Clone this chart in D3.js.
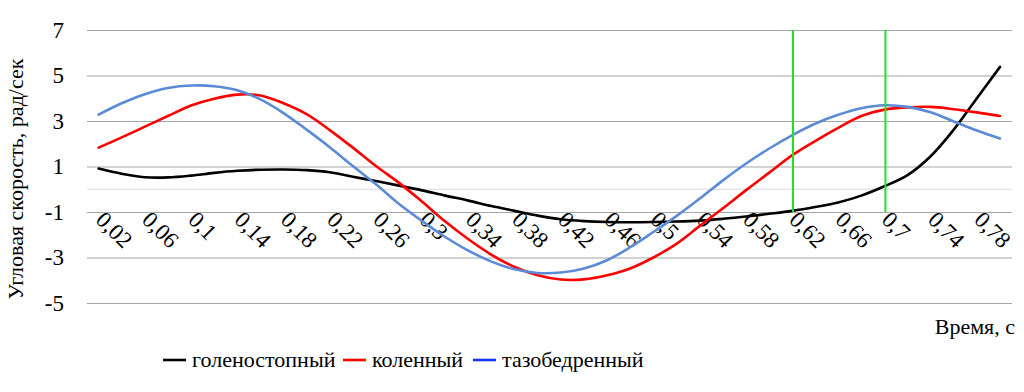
<!DOCTYPE html>
<meta charset="utf-8">
<style>
    body { margin: 0; background: #fff; }
    .grid line { stroke: #a6a6a6; stroke-width: 1px; }
    .series { fill: none; stroke-width: 2.6px; stroke-linejoin: round; stroke-linecap: round; }
</style>
<svg width="1024" height="392" font-family="'Times New Roman', 'Liberation Serif', Times, 'DejaVu Serif', serif"></svg>
<script src="https://d3js.org/d3.v7.min.js"></script>
<script>

    // time points, s
    var times = [0.02, 0.04, 0.06, 0.08, 0.10, 0.12, 0.14, 0.16, 0.18, 0.20,
                 0.22, 0.24, 0.26, 0.28, 0.30, 0.32, 0.34, 0.36, 0.38, 0.40,
                 0.42, 0.44, 0.46, 0.48, 0.50, 0.52, 0.54, 0.56, 0.58, 0.60,
                 0.62, 0.64, 0.66, 0.68, 0.70, 0.72, 0.74, 0.76, 0.78, 0.80];

    // angular velocity, rad/s
    var ankle = [0.91, 0.68, 0.53, 0.52, 0.60, 0.72, 0.81, 0.86, 0.87, 0.84,
                 0.75, 0.55, 0.36, 0.16, -0.05, -0.28, -0.50, -0.74, -0.95, -1.16,
                 -1.32, -1.40, -1.44, -1.45, -1.44, -1.42, -1.38, -1.30, -1.20, -1.08,
                 -0.95, -0.78, -0.58, -0.28, 0.13, 0.62, 1.45, 2.62, 4.00, 5.38];

    var knee = [1.83, 2.28, 2.75, 3.22, 3.68, 3.98, 4.16, 4.12, 3.78, 3.30,
                2.60, 1.83, 1.02, 0.28, -0.55, -1.42, -2.20, -2.88, -3.42, -3.78,
                -3.97, -3.96, -3.78, -3.48, -3.00, -2.40, -1.62, -0.85, -0.05, 0.72,
                1.49, 2.12, 2.70, 3.22, 3.50, 3.60, 3.62, 3.52, 3.38, 3.22];

    var hip = [3.28, 3.78, 4.18, 4.45, 4.56, 4.53, 4.35, 3.95, 3.35, 2.62,
               1.85, 1.02, 0.22, -0.65, -1.40, -2.10, -2.70, -3.18, -3.52, -3.68,
               -3.66, -3.48, -3.12, -2.55, -1.88, -1.18, -0.42, 0.38, 1.12, 1.78,
               2.37, 2.88, 3.27, 3.56, 3.69, 3.62, 3.38, 2.98, 2.58, 2.23];

    var seriesNames = ["голеностопный", "коленный", "тазобедренный"];
    var xLabelTimes = [0.02, 0.06, 0.10, 0.14, 0.18, 0.22, 0.26, 0.30, 0.34, 0.38,
                       0.42, 0.46, 0.50, 0.54, 0.58, 0.62, 0.66, 0.70, 0.74, 0.78];
    var yTicks = [7, 5, 3, 1, -1, -3, -5];
    var markerTimes = [0.62, 0.70];

    var serif = "'Times New Roman', 'Liberation Serif', Times, 'DejaVu Serif', serif";

    var svg = d3.select("svg"),
        left = 87,
        right = 1012;

    var x = d3.scalePoint().domain(times).range([98.6, 1000]);
    var y = d3.scaleLinear().domain([-5, 7]).range([303, 30]);

    var fmt = function (t) { return String(+t.toFixed(2)).replace(".", ","); };

    // horizontal gridlines + y tick labels
    var yAxis = svg.append("g")
        .attr("class", "grid")
        .attr("transform", "translate(" + left + ",0)")
        .call(d3.axisLeft(y).tickValues(yTicks).tickSize(-(right - left)).tickPadding(23).tickFormat(d3.format("d")));
    yAxis.attr("font-family", serif).attr("font-size", 23);
    yAxis.select(".domain").remove();
    yAxis.selectAll("text")
        .text(function (d) { return d < 0 ? "-" + Math.abs(d) : d; });

    // zero line (category axis)
    svg.append("line")
        .attr("x1", left).attr("x2", right)
        .attr("y1", y(0)).attr("y2", y(0))
        .attr("stroke", "#d9d9d9").attr("stroke-width", 1.2);

    // category labels, rotated
    svg.append("g").selectAll("text")
        .data(xLabelTimes)
        .enter().append("text")
        .attr("font-family", serif)
        .attr("font-size", 23)
        .attr("transform", function (d) { return "translate(" + (x(d) - 4) + ",221) rotate(45)"; })
        .text(fmt);

    // series
    var line = d3.line()
        .x(function (d, i) { return x(times[i]); })
        .y(function (d) { return y(d); })
        .curve(d3.curveCatmullRom.alpha(0.5));

    var series = [
        { name: seriesNames[0], values: ankle, color: "#000000", legend: "#000000" },
        { name: seriesNames[1], values: knee, color: "#ff0000", legend: "#ff0000" },
        { name: seriesNames[2], values: hip, color: "#5b8bd6", legend: "#1434ff" }
    ];

    svg.append("g").selectAll("path")
        .data(series)
        .enter().append("path")
        .attr("class", "series")
        .attr("stroke", function (d) { return d.color; })
        .attr("d", function (d) { return line(d.values); });

    // green markers
    svg.append("g").selectAll("line")
        .data(markerTimes)
        .enter().append("line")
        .attr("x1", function (d) { return x(d) + 1; })
        .attr("x2", function (d) { return x(d) + 1; })
        .attr("y1", y(7))
        .attr("y2", y(-1))
        .attr("stroke", "#22e022")
        .attr("stroke-width", 2);

    // axis titles
    svg.append("text")
        .attr("font-family", serif)
        .attr("font-size", 22)
        .attr("text-anchor", "middle")
        .attr("dominant-baseline", "central")
        .attr("transform", "translate(15,179) rotate(-90)")
        .text("Угловая скорость, рад/сек");

    svg.append("text")
        .attr("font-family", serif)
        .attr("font-size", 22)
        .attr("text-anchor", "end")
        .attr("x", 1015)
        .attr("y", 334)
        .text("Время, с");

    // legend
    var legendPos = [163, 343, 473];
    var leg = svg.append("g").selectAll("g")
        .data(series)
        .enter().append("g")
        .attr("transform", function (d, i) { return "translate(" + legendPos[i] + ",360)"; });
    leg.append("line")
        .attr("x1", 0).attr("x2", 23)
        .attr("stroke", function (d) { return d.legend; })
        .attr("stroke-width", 2.6);
    leg.append("text")
        .attr("font-family", serif)
        .attr("x", 29)
        .attr("y", 7)
        .attr("font-size", 22)
        .text(function (d) { return d.name; });

</script>
